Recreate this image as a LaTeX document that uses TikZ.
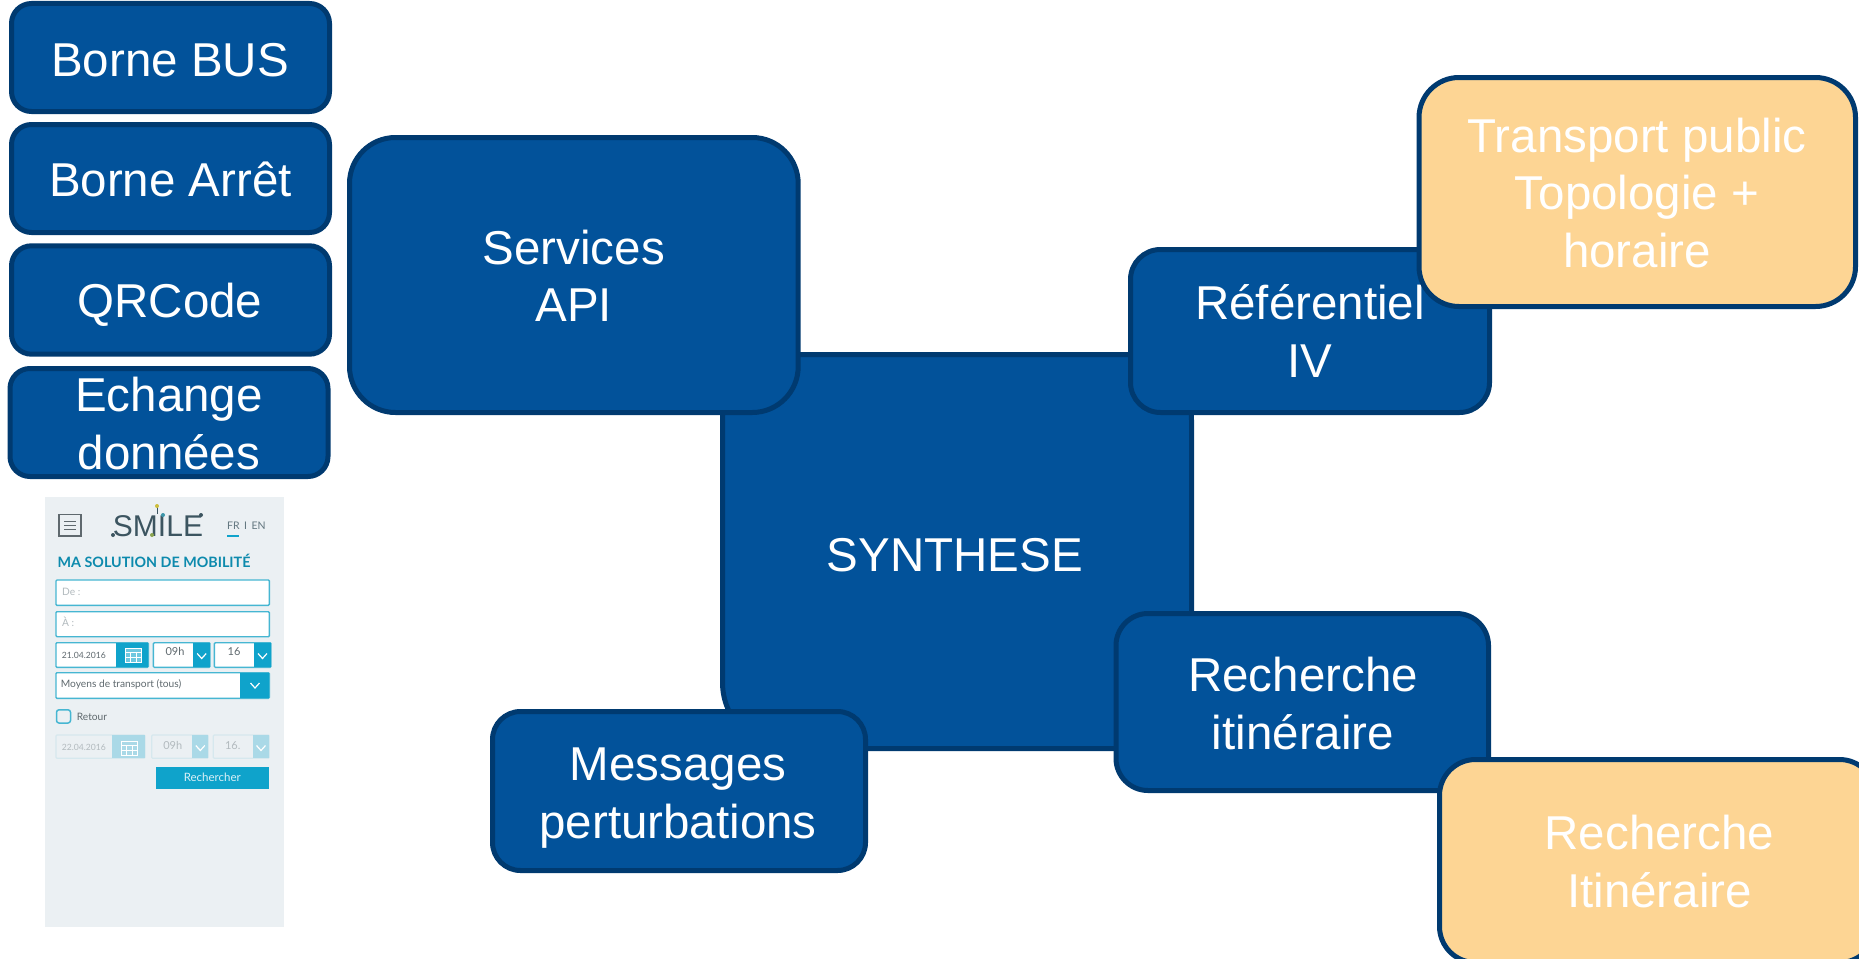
\documentclass[tikz,border=0pt]{standalone}
\usepackage{fontspec}
\setmainfont{Liberation Sans}
\newfontfamily\uifont{Lato}
\definecolor{boxblue}{RGB}{2,82,154}
\definecolor{boxedge}{RGB}{0,58,112}
\definecolor{boxorange}{RGB}{253,213,148}
\definecolor{panelbg}{RGB}{235,240,243}
\definecolor{uiteal}{RGB}{15,163,203}
\definecolor{uiedge}{RGB}{70,182,210}
\definecolor{uipale}{RGB}{170,217,231}
\definecolor{uipaleedge}{RGB}{214,232,238}
\definecolor{uigray}{RGB}{95,105,110}
\definecolor{uilight}{RGB}{178,186,190}
\definecolor{uilogo}{RGB}{60,85,96}
\definecolor{dotyellow}{RGB}{205,190,60}
\definecolor{dotteal}{RGB}{60,150,170}
\definecolor{dotgreen}{RGB}{140,165,80}
\newcommand\boxlabel[3]{\raisebox{#2pt}[0pt][0pt]{\makebox[0pt]{\kern#1pt\kern#1pt\vbox{\baselineskip=57.5pt\lineskiplimit=-100pt\halign{\hfil##\hfil\cr #3\cr}}}}}
% style, name, x1, y1, x2, y2, text x, last baseline, lines (x,y = outer edge of the stroke)
\newcommand\diagbox[9]{%
  \pgfmathsetmacro\bw{#5-#3-5}\pgfmathsetmacro\bh{#6-#4-5}%
  \pgfmathsetmacro\cx{(#3+#5)/2}\pgfmathsetmacro\cy{(#4+#6)/2}%
  \pgfmathsetmacro\dx{#7-\cx}\pgfmathsetmacro\dy{\cy-#8}%
  \node[#1,minimum width=\bw pt,minimum height=\bh pt] (#2) at (\cx,\cy) {\boxlabel{\dx}{\dy}{#9}};}
\newcommand\chev[2]{\draw[chevron] (#1-4.5,#2-2.5) -- (#1,#2+2.5) -- (#1+4.5,#2-2.5);}
\tikzset{
  basebox/.style={rectangle,draw=boxedge,line width=5pt,inner sep=0pt,text=white,font=\fontsize{47.5}{57.5}\selectfont},
  bluebox/.style={basebox,fill=boxblue},
  orangebox/.style={basebox,fill=boxorange},
  uifield/.style={draw=uiedge,line width=1.4pt,fill=white,rounded corners=1pt},
  uifieldoff/.style={draw=uipaleedge,line width=1.2pt,fill=panelbg,rounded corners=1pt},
  chevron/.style={draw=white,line width=1.2pt},
  uitxt/.style={inner sep=0pt,anchor=base west,text=uigray,font=\uifont\fontsize{10.2}{12}\selectfont},
  uimid/.style={uitxt,anchor=base,font=\uifont\fontsize{11}{13}\selectfont},
  uidate/.style={uitxt,font=\uifont\fontsize{8.6}{10}\selectfont},
  uioff/.style={uitxt,text=uilight},
  uioffdate/.style={uidate,text=uilight},
  uioffmid/.style={uimid,text=uilight},
  logodot/.style={circle,inner sep=0pt,minimum size=4pt,fill=#1}
}
\begin{document}
\begin{tikzpicture}[x=1pt,y=-1pt]
\clip (0,0) rectangle (1859,958);
\useasboundingbox (0,0) rectangle (1859,958);
\fill[white] (0,0) rectangle (1859,958);

% left column
\diagbox{bluebox,rounded corners=20pt}{bus}{9}{1}{332}{114}{170}{76}{Borne BUS}
\diagbox{bluebox,rounded corners=20pt}{arret}{9}{122}{332}{235}{170.5}{196.7}{Borne Arrêt}
\diagbox{bluebox,rounded corners=20pt}{qr}{9}{243.3}{332}{356.7}{170}{317.7}{QRCode}
\diagbox{bluebox,rounded corners=20pt}{echange}{7.5}{366}{330.5}{479}{169}{469}{Echange\cr données}

% centre and satellites
\diagbox{bluebox,rounded corners=66pt}{synth}{720}{352}{1194}{751}{955}{571.5}{SYNTHESE}
\diagbox{bluebox,rounded corners=46pt}{api}{347}{135}{800.7}{415}{573.7}{321.7}{Services\cr API}
\diagbox{bluebox,rounded corners=28pt}{msg}{490}{709}{868}{873}{678}{838}{Messages\cr perturbations}
\diagbox{bluebox,rounded corners=30pt}{ref}{1128}{247}{1492}{415}{1310}{377}{Référentiel\cr IV}
\diagbox{bluebox,rounded corners=32pt}{rech}{1113.5}{611}{1491}{793}{1303}{749}{Recherche\cr itinéraire}
\diagbox{orangebox,rounded corners=40pt}{tp}{1416.5}{75}{1858}{309}{1637}{267}{Transport public\cr Topologie +\cr horaire}
\diagbox{orangebox,rounded corners=36pt}{ri}{1437}{757}{1878}{965}{1659.5}{907}{Recherche\cr Itinéraire}

% screenshot panel
\fill[panelbg] (45,497) rectangle (284,927);
% menu icon
\draw[uigray,line width=1.3pt,fill=panelbg] (59,514.5) rectangle (81,536);
\draw[uigray,line width=1pt] (64,521) -- (76,521) (64,525) -- (76,525) (64,529) -- (76,529);
% logo
\node[inner sep=0pt,anchor=base,text=uilogo,font=\fontsize{30}{32}\selectfont] (smile) at (158,536.5) {SMILE};
\draw[uilogo,line width=1pt] (157,507) -- (157,514);
\node[logodot=dotyellow] (d1) at (157,506) {};
\node[logodot=uilogo] (d2) at (113,535) {};
\node[logodot=dotteal] (d3) at (163,515) {};
\node[logodot=dotgreen] (d4) at (152,535) {};
\node[logodot=uilogo] (d5) at (201,515) {};
% language
\node[uitxt,text=uilogo!80,font=\uifont\fontsize{10.5}{12}\selectfont] (lang) at (227,529) {FR\hspace{4.5pt}I\hspace{4.5pt}EN};
\draw[uiteal,line width=1.6pt] (227,536) -- (239,536);
% title
\node[uitxt,text=uiteal!85!black,font=\uifont\bfseries\fontsize{14.3}{16}\selectfont] (title) at (57.5,567) {MA SOLUTION DE MOBILITÉ};
% from / to
\path[uifield] (56,580) rectangle (269.3,605.3);
\node[uioff] (de) at (62,595) {De :};
\path[uifield] (56,611.7) rectangle (269.3,636.7);
\node[uioff] (a) at (62,626) {À :};
% date row
\path[uifield] (56,642.7) rectangle (148.3,667.3);
\fill[uiteal] (116,642.7) rectangle (148.3,667.3);
\node[uidate] (date1) at (61.7,658.3) {21.04.2016};
\draw[white,line width=1pt,fill=uiteal!60!white] (125,648) rectangle (141,662);
\draw[white,line width=.8pt] (125,652) -- (141,652) (130,652) -- (130,662) (136,652) -- (136,662) (125,657) -- (141,657);
\path[uifield] (153.3,642.7) rectangle (210,667.3);
\fill[uiteal] (193.3,642.7) rectangle (210,667.3);
\node[uimid] (h1) at (175,655.5) {09h};
\chev{201.7}{656}
\path[uifield] (214.3,642.7) rectangle (271,667.3);
\fill[uiteal] (254,642.7) rectangle (271,667.3);
\node[uimid] (m1) at (234,655.5) {16};
\chev{262.5}{656}
% mode
\path[uifield] (56,672.7) rectangle (269.3,698.3);
\fill[uiteal] (240,672.7) rectangle (269.3,698.3);
\node[uitxt] (mode) at (60.7,687.7) {Moyens de transport (tous)};
\chev{255}{685.5}
% return
\draw[uiedge,line width=1.5pt,rounded corners=2.5pt,fill=panelbg] (56.5,709.8) rectangle (70.5,723);
\node[uitxt] (ret) at (76.7,720) {Retour};
\path[uifieldoff] (56,735) rectangle (145,758.3);
\fill[uipale] (112.3,735) rectangle (145,758.3);
\node[uioffdate] (date2) at (61.7,750) {22.04.2016};
\draw[white,line width=.9pt] (121,741) rectangle (137,755);
\draw[white,line width=.7pt] (121,745) -- (137,745) (126,745) -- (126,755) (132,745) -- (132,755) (121,750) -- (137,750);
\path[uifieldoff] (151.7,735) rectangle (208.3,758.3);
\fill[uipale] (192.3,735) rectangle (208.3,758.3);
\node[uioffmid] (h2) at (172.7,749.5) {09h};
\chev{200.3}{748}
\path[uifieldoff] (213.3,735) rectangle (269.3,758.3);
\fill[uipale] (252.7,735) rectangle (269.3,758.3);
\node[uioffmid] (m2) at (232.7,749.5) {16.};
\chev{261}{748}
% search button
\fill[uiteal] (155.7,767.3) rectangle (269,789.3);
\node[uimid,text=white!85!uiteal,font=\uifont\fontsize{11.5}{13}\selectfont] (go) at (212.3,781.7) {Rechercher};
\end{tikzpicture}
\end{document}
